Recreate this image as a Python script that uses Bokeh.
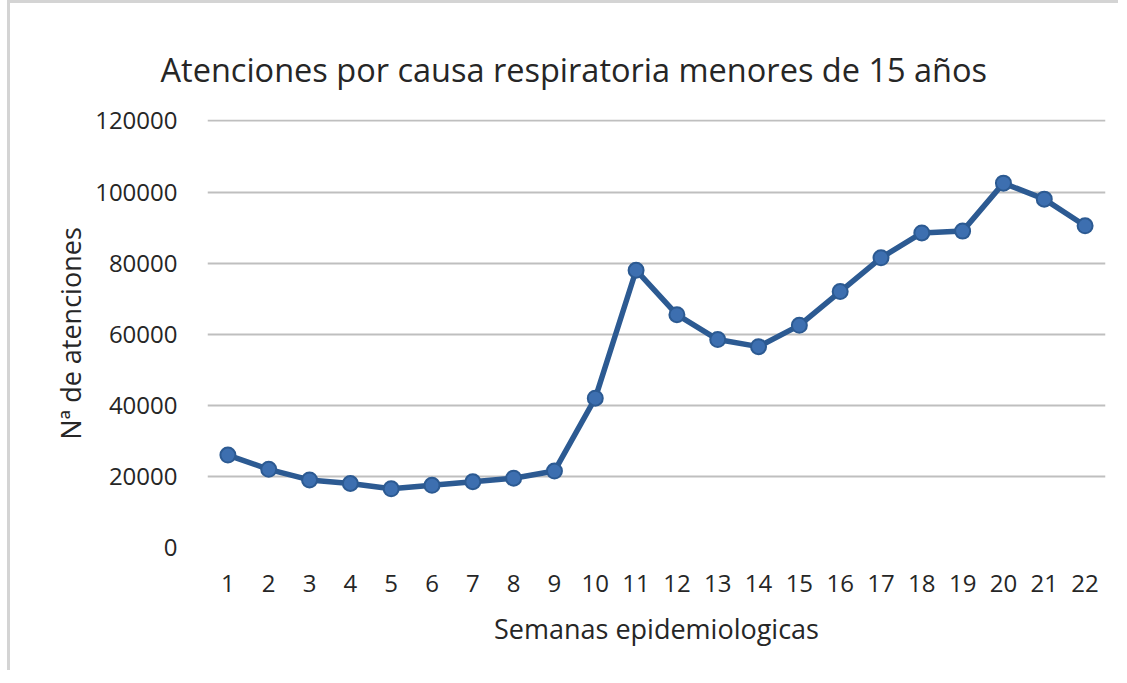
from bokeh.plotting import figure
from bokeh.models import FixedTicker, BasicTickFormatter
from bokeh.embed import file_html
from bokeh.resources import INLINE

semanas = list(range(1, 23))
atenciones = [26000, 22000, 19000, 18000, 16500, 17500, 18500, 19500, 21500, 42000,
              78000, 65500, 58500, 56500, 62500, 72000, 81500, 88500, 89000, 102500,
              98000, 90500]
y_ticks = [0, 20000, 40000, 60000, 80000, 100000, 120000]
titulo = "Atenciones por causa respiratoria menores de 15 años"
x_label = "Semanas epidemiologicas"
y_label = "Nª de atenciones"

FONT = "Open Sans"
TXT = "#262626"

p = figure(width=1111, height=670, output_backend="svg", toolbar_location=None,
           x_range=(0.5, 22.5), y_range=(0, 120400),
           min_border_left=197, min_border_right=16, min_border_top=116, min_border_bottom=126)
p.styles = {"border-left": "3px solid #d4d4d4", "border-top": "3px solid #d4d4d4",
            "margin-top": "0px", "margin-left": "7px"}
p.outline_line_color = None
p.background_fill_color = "white"
p.border_fill_color = "white"

p.title.text = titulo
p.title.align = "left"
p.title.offset = -47
p.title.standoff = 56
p.title.text_font = FONT
p.title.text_font_size = "32.5px"
p.title.text_font_style = "normal"
p.title.text_color = TXT

p.xgrid.visible = False
p.ygrid.grid_line_color = "#bfbfbf"
p.ygrid.grid_line_width = 2
p.yaxis.ticker = FixedTicker(ticks=y_ticks)
p.yaxis.formatter = BasicTickFormatter(use_scientific=False)
p.xaxis.ticker = FixedTicker(ticks=semanas)

for ax in (p.xaxis[0], p.yaxis[0]):
    ax.axis_line_color = None
    ax.major_tick_line_color = None
    ax.minor_tick_line_color = None
    ax.major_label_text_font = FONT
    ax.major_label_text_font_size = "24px"
    ax.major_label_text_color = TXT
    ax.axis_label_text_font = FONT
    ax.axis_label_text_font_size = "27px"
    ax.axis_label_text_font_style = "normal"
    ax.axis_label_text_color = TXT

p.xaxis.major_label_standoff = 21
p.yaxis.major_label_standoff = 24
p.xaxis.axis_label = x_label
p.yaxis.axis_label = y_label
p.xaxis.axis_label_standoff = 15
p.yaxis.axis_label_standoff = 3

p.line(semanas, atenciones, line_color="#2c5a92", line_width=5.5)
p.scatter(semanas, atenciones, size=15, fill_color="#3d6fb0", line_color="#2c5a92", line_width=2)

open("out.html", "w").write(file_html(p, INLINE))
